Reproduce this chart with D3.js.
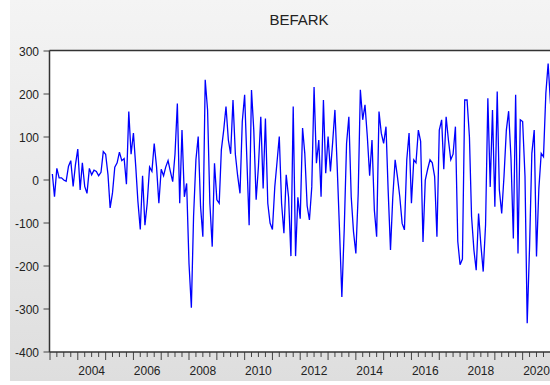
<!DOCTYPE html>
<html>
<head>
<meta charset="utf-8">
<script src="https://cdn.jsdelivr.net/npm/d3@7"></script>
<style>
  html, body { margin: 0; padding: 0; background: #ffffff; }
  svg { display: block; font-family: Arial, "Liberation Sans", sans-serif; }
</style>
</head>
<body>
<div id="chart"></div>
<script>
// Series: BEFARK, monthly, starting 2003M02
var SeriesName = "BEFARK";
var StartYear = 2003, StartMonth = 1; // 0-based month: February
var Befark = [
    14, -39, 27, 5, 5, 0, -3, 32, 45, -15, 35, 72,
    -23, 40, -15, -31, 27, 12, 23, 20, 10, 18, 66, 60,
    12, -65, -30, 30, 40, 65, 45, 50, -10, 159, 60, 109,
    30, -50, -115, 10, -105, -54, 30, 20, 85, 30, -54, 25,
    10, 30, 45, 20, -4, 60, 178, -54, 116, -39, -8, -194,
    -297, -85, 47, 101, -62, -132, 233, 163, -54, -155, 39, -46,
    -54, 70, 116, 171, 93, 61, 186, 60, 10, -31, 136, 198,
    39, -105, 209, 116, -46, 31, 147, -20, 143, -54, -100, -115,
    -16, 39, 101, -54, -124, 12, -40, -177, 171, -177, -40, -90,
    121, 62, -60, -93, -16, 216, 39, 93, -39, 186, 16, 101,
    20, 85, 163, 30, -120, -272, -116, 85, 147, -39, -120, -171,
    -31, 210, 140, 175, 100, 10, 93, -70, -132, 159, 109, 85,
    124, -23, -163, -40, 47, 8, -39, -101, -116, 47, 109, -54,
    47, 40, 116, 90, -144, 0, 25, 47, 40, 8, -132, 116,
    140, 25, 147, 93, 47, 60, 124, -143, -197, -184, 186, 186,
    100, -85, -163, -210, -78, -150, -213, -104, 190, -16, 163, -62,
    206, -23, -78, 8, 116, 160, 50, -136, 198, -171, 140, 136,
    8, -333, -155, 62, 116, -178, -20, 62, 54, 202, 271, 178,
    155
];
var YTicks = [300, 200, 100, 0, -100, -200, -300, -400];
var YearLabels = [2004, 2006, 2008, 2010, 2012, 2014, 2016, 2018, 2020];

var Width = 550, Height = 385;
var Svg = d3.select("#chart").append("svg").attr("width", Width).attr("height", Height);

// Frame background (gradient like the EViews graph frame)
var Defs = Svg.append("defs");
var Grad = Defs.append("linearGradient").attr("id", "bg").attr("x1", 0).attr("y1", 0).attr("x2", 0).attr("y2", 1);
Grad.append("stop").attr("offset", "0%").attr("stop-color", "#f4f4f4");
Grad.append("stop").attr("offset", "100%").attr("stop-color", "#dedede");
Svg.append("rect").attr("x", 10).attr("y", 0).attr("width", Width - 10).attr("height", 381).attr("fill", "url(#bg)");

// Scales
var X = d3.scaleTime().domain([new Date(2003, 0, 1), new Date(2021, 0, 1)]).range([50, 550.5]);
var Y = d3.scaleLinear().domain([-400, 300]).range([352, 51]);
var Left = 49.5, Top = 50.5, Bottom = 352;

// Plot area
Svg.append("rect").attr("x", Left).attr("y", Top).attr("width", 520).attr("height", Bottom - Top).attr("fill", "#ffffff");
Defs.append("clipPath").attr("id", "clip").append("rect")
    .attr("x", Left).attr("y", Top).attr("width", 520).attr("height", Bottom - Top);

// Title
Svg.append("text").attr("x", 299).attr("y", 25).attr("text-anchor", "middle")
    .attr("font-size", 15).attr("fill", "#222").text(SeriesName);

// Line
var Points = Befark.map((V, I) => ({ Date: new Date(StartYear, StartMonth + I, 1), Value: V }));
Svg.append("path").datum(Points)
    .attr("clip-path", "url(#clip)")
    .attr("fill", "none").attr("stroke", "#0000ff").attr("stroke-width", 1.3)
    .attr("stroke-linejoin", "miter")
    .attr("d", d3.line().x((D) => X(D.Date)).y((D) => Y(D.Value)));

// Y axis ticks and labels
var YAxis = Svg.append("g");
YAxis.selectAll("line").data(YTicks).join("line")
    .attr("x1", Left - 6).attr("x2", Left).attr("y1", (D) => Y(D)).attr("y2", (D) => Y(D))
    .attr("stroke", "#444").attr("stroke-width", 1);
YAxis.selectAll("text").data(YTicks).join("text")
    .attr("x", 39).attr("y", (D) => Y(D) + 4.5).attr("text-anchor", "end")
    .attr("font-size", 12).attr("fill", "#222").text((D) => D);

// X axis: quarterly minor ticks, yearly major ticks
var Quarters = d3.timeMonth.every(3).range(new Date(2003, 0, 1), new Date(2021, 6, 1));
var XAxis = Svg.append("g");
XAxis.selectAll("line").data(Quarters).join("line")
    .attr("x1", (D) => X(D)).attr("x2", (D) => X(D))
    .attr("y1", Bottom).attr("y2", (D) => Bottom + (D.getMonth() == 0 ? 8 : 5))
    .attr("stroke", "#444").attr("stroke-width", 1);
XAxis.selectAll("text").data(YearLabels).join("text")
    .attr("x", (D) => X(new Date(D, 6, 1))).attr("y", Bottom + 23).attr("text-anchor", "middle")
    .attr("font-size", 12).attr("fill", "#222").text((D) => D);

// Frame lines
Svg.append("line").attr("x1", Left).attr("x2", Width).attr("y1", Top).attr("y2", Top).attr("stroke", "#333").attr("stroke-width", 1.5);
Svg.append("line").attr("x1", Left).attr("x2", Left).attr("y1", Top).attr("y2", Bottom).attr("stroke", "#333").attr("stroke-width", 1.5);
Svg.append("line").attr("x1", Left).attr("x2", Width).attr("y1", Bottom).attr("y2", Bottom).attr("stroke", "#333").attr("stroke-width", 1.5);
</script>
</body>
</html>
